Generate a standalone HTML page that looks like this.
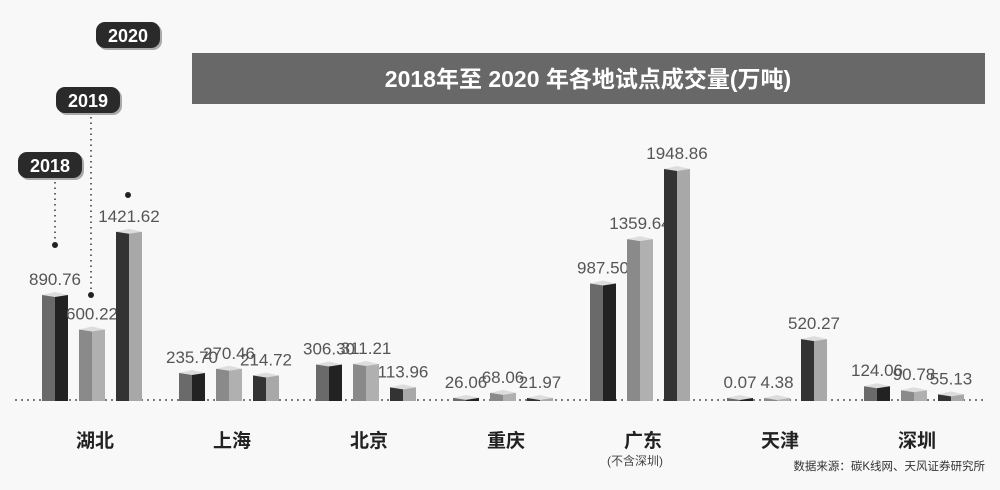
<!DOCTYPE html>
<html><head><meta charset="utf-8">
<style>
html,body{margin:0;padding:0;background:#f7f7f7;}
svg{display:block;font-family:"Liberation Sans","Noto Sans CJK SC",sans-serif;}
</style></head>
<body>
<svg id="chart" width="1000" height="490" viewBox="0 0 1000 490">
  <rect x="0" y="0" width="1000" height="490" fill="#f8f8f8"/>
  <rect x="192" y="53" width="793" height="51" fill="#686868"/>
  <text x="588" y="87" text-anchor="middle" fill="#fff" font-size="23" font-weight="bold">2018年至 2020 年各地试点成交量(万吨)</text>
  <line x1="15" y1="400" x2="985" y2="400" stroke="#555" stroke-width="1.5" stroke-dasharray="2,4"/>
  <g id="legend"></g>
  <g id="bars"></g>
  <g id="cats"></g>
  <text x="607" y="465" font-size="12" fill="#444">(不含深圳)</text>
  <text x="985" y="470" text-anchor="end" font-size="11.5" fill="#333">数据来源：碳K线网、天风证券研究所</text>
</svg>
<script>
const categories = ["湖北","上海","北京","重庆","广东","天津","深圳"];
const years = ["2018","2019","2020"];
const v2018 = [890.76,235.70,306.30,26.06,987.50,0.07,124.06];
const v2019 = [600.22,270.46,311.21,68.06,1359.64,4.38,90.78];
const v2020 = [1421.62,214.72,113.96,21.97,1948.86,520.27,55.13];
const labels2018 = ["890.76","235.70","306.30","26.06","987.50","0.07","124.06"];
const labels2019 = ["600.22","270.46","311.21","68.06","1359.64","4.38","90.78"];
const labels2020 = ["1421.62","214.72","113.96","21.97","1948.86","520.27","55.13"];

const NS="http://www.w3.org/2000/svg";
const base=401, scale=232/1948.86;
const y=v=>base-Math.max(3,v*scale);
const groupX=i=>92+i*137;
const barX=(i,s)=>groupX(i)+(s-1)*37;
const faces=[["#6a6a6a","#222"],["#8a8a8a","#b0b0b0"],["#333","#a8a8a8"]];
function mk(tag,attrs,parent){const e=document.createElementNS(NS,tag);for(const k in attrs)e.setAttribute(k,attrs[k]);parent.appendChild(e);return e;}
const barsG=document.getElementById('bars');
const series=[v2018,v2019,v2020], sl=[labels2018,labels2019,labels2020];
series.forEach((vals,s)=>{
  vals.forEach((v,i)=>{
    const cx=barX(i,s), top=y(v), w=13;
    const g=mk('g',{},barsG);
    
    
    mk('rect',{x:cx-w,y:top,width:w,height:base-top,fill:faces[s][0]},g);
    mk('rect',{x:cx,y:top,width:w,height:base-top,fill:faces[s][1]},g);
    mk('path',{d:`M${cx-w} ${top} L${cx} ${top-3} L${cx+w} ${top} L${cx} ${top+2} Z`,fill:"#ddd"},g);
    const t=mk('text',{x:cx,y:top-10,'text-anchor':'middle','font-size':17,fill:'#555'},barsG);
    
    
    t.textContent=sl[s][i];
  });
});
const catsG=document.getElementById('cats');
categories.forEach((c,i)=>{
  const t=mk('text',{x:groupX(i)+3,y:447,'text-anchor':'middle','font-size':19,'font-weight':'bold',fill:'#222'},catsG);
  
  
  t.textContent=c;
});
const legG=document.getElementById('legend');
const leg=[[18,152,barX(0,0),245],[56,87,barX(0,1)-1,295],[96,22,barX(0,2),195]];
leg.forEach((p,s)=>{
  const g=mk('g',{},legG);
  
  
  mk('rect',{x:p[0]+2,y:p[1]+2,width:64,height:26,rx:9,fill:'#aaa'},g);
  mk('rect',{x:p[0],y:p[1],width:64,height:26,rx:9,fill:'#2a2a2a'},g);
  const t=mk('text',{x:p[0]+32,y:p[1]+20,'text-anchor':'middle','font-size':18,'font-weight':'bold',fill:'#fff'},g);
  t.textContent=years[s];
  if(s<2){mk('line',{x1:p[2],y1:p[1]+30,x2:p[2],y2:p[3],stroke:'#333','stroke-width':1.5,'stroke-dasharray':'1.5,4'},g);}
  mk('circle',{cx:p[2]+(s==2?-1:0),cy:p[3],r:3,fill:'#222'},g);
});
</script>
</body></html>
